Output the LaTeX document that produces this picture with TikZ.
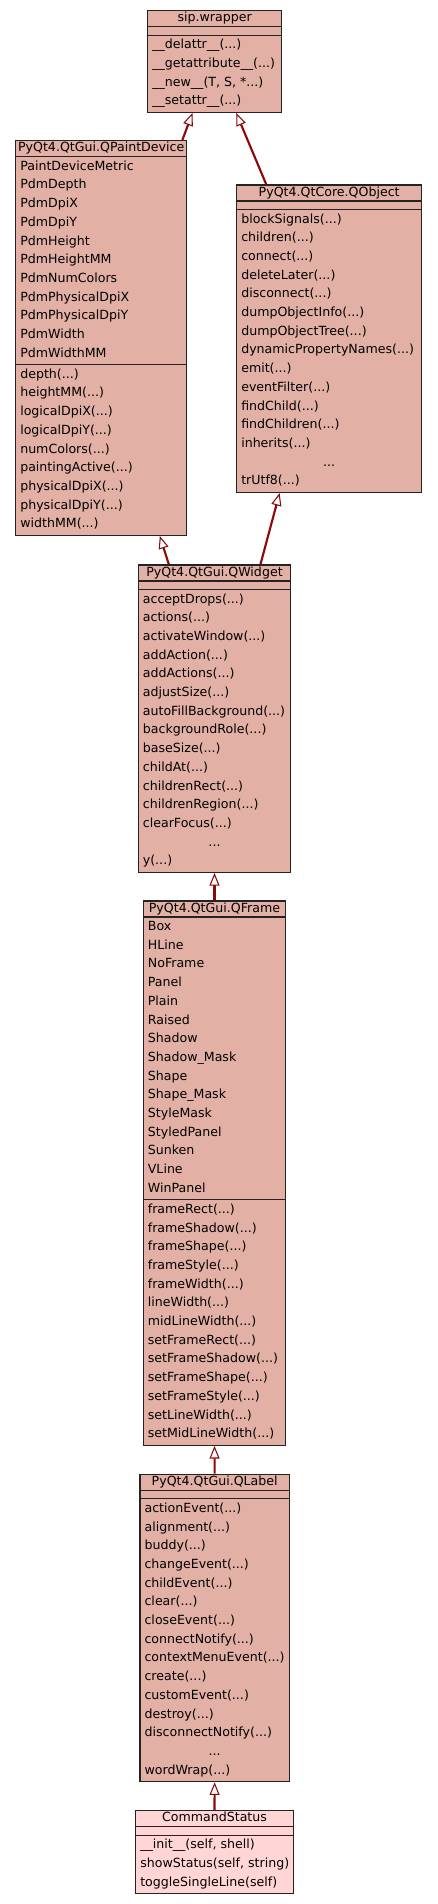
\documentclass[tikz,border=0pt]{standalone}
\usepackage{fontspec}
\setmainfont{DejaVu Sans}
\usepackage{tikz}
\usetikzlibrary{arrows.meta, positioning, calc, fit}

\definecolor{boxfill}{RGB}{226,176,164}
\definecolor{leaffill}{RGB}{255,213,213}
\definecolor{edgered}{RGB}{139,10,10}
\definecolor{boxline}{RGB}{35,35,35}

\newcommand{\threedots}{...}
\newcommand{\callargs}{(\threedots)}

\tikzset{
  classbox/.style={draw=boxline, line width=1pt, fill=boxfill, inner sep=0pt},
  sepline/.style={draw=boxline, line width=1pt},
  member/.style={anchor=base west, inner sep=0pt},
  cname/.style={anchor=base, inner sep=0pt},
  inherit/.style={draw=edgered, line width=1.6pt,
    -{Triangle[fill=white, length=9.5pt, width=7.5pt, line width=0.8pt]}},
}

\begin{document}
\begin{tikzpicture}[x=0.75pt,y=-0.75pt,font=\fontsize{9.45}{11}\selectfont]

\fill[white] (0,0) rectangle (437,1904);
\useasboundingbox (0,0) rectangle (437,1904);

% --- SIP.WRAPPER ---
\node[classbox, fit={(147.7,10.7) (281.7,112.3)}] (sip) {};
\node[cname] (sip-t) at (214.7,21.7) {sip.wrapper};
\draw[sepline] (147.7,26.7) -- (281.7,26.7);
\draw[sepline] (147.7,35.2) -- (281.7,35.2);
\foreach \txt [count=\k from 0] in {\_\_delattr\_\_\callargs, \_\_getattribute\_\_\callargs,
    {\_\_new\_\_(T, S, *\threedots)}, \_\_setattr\_\_\callargs} {
  \node[member] (sip-m\k) at (152,48.7+\k*18.7) {\txt};
}

% --- QPAINTDEVICE ---
\node[classbox, fit={(15.7,140.7) (186.7,535.3)}] (qpd) {};
\node[cname] (qpd-t) at (101.2,151.7) {PyQt4.QtGui.QPaintDevice};
\draw[sepline] (15.7,156.7) -- (186.7,156.7);
\draw[sepline] (15.7,364.7) -- (186.7,364.7);
\foreach \txt [count=\k from 0] in {PaintDeviceMetric, PdmDepth, PdmDpiX, PdmDpiY, PdmHeight,
    PdmHeightMM, PdmNumColors, PdmPhysicalDpiX, PdmPhysicalDpiY, PdmWidth, PdmWidthMM} {
  \node[member] (qpd-a\k) at (20,170.2+\k*18.7) {\txt};
}
\foreach \txt [count=\k from 0] in {depth\callargs, heightMM\callargs, logicalDpiX\callargs,
    logicalDpiY\callargs, numColors\callargs, paintingActive\callargs, physicalDpiX\callargs,
    physicalDpiY\callargs, widthMM\callargs} {
  \node[member] (qpd-m\k) at (20,378.2+\k*18.7) {\txt};
}

% --- QOBJECT ---
\node[classbox, fit={(236.7,185) (421.7,492.3)}] (qobj) {};
\node[cname] (qobj-t) at (329.2,196) {PyQt4.QtCore.QObject};
\draw[sepline] (236.7,201) -- (421.7,201);
\draw[sepline] (236.7,209.5) -- (421.7,209.5);
\foreach \txt [count=\k from 0] in {blockSignals\callargs, children\callargs, connect\callargs,
    deleteLater\callargs, disconnect\callargs, dumpObjectInfo\callargs, dumpObjectTree\callargs,
    dynamicPropertyNames\callargs, emit\callargs, eventFilter\callargs, findChild\callargs,
    findChildren\callargs, inherits\callargs} {
  \node[member] (qobj-m\k) at (241,223+\k*18.7) {\txt};
}
\node[cname] (qobj-etc) at (329.2,223+13*18.7) {\threedots};
\node[member] (qobj-last) at (241,223+14*18.7) {trUtf8\callargs};

% --- QWIDGET ---
\node[classbox, fit={(138.3,565) (290.7,872.3)}] (qwid) {};
\node[cname] (qwid-t) at (214.5,576) {PyQt4.QtGui.QWidget};
\draw[sepline] (138.3,581) -- (290.7,581);
\draw[sepline] (138.3,589.5) -- (290.7,589.5);
\foreach \txt [count=\k from 0] in {acceptDrops\callargs, actions\callargs, activateWindow\callargs,
    addAction\callargs, addActions\callargs, adjustSize\callargs, autoFillBackground\callargs,
    backgroundRole\callargs, baseSize\callargs, childAt\callargs, childrenRect\callargs,
    childrenRegion\callargs, clearFocus\callargs} {
  \node[member] (qwid-m\k) at (142.6,603+\k*18.7) {\txt};
}
\node[cname] (qwid-etc) at (214.5,603+13*18.7) {\threedots};
\node[member] (qwid-last) at (142.6,603+14*18.7) {y\callargs};

% --- QFRAME ---
\node[classbox, fit={(143.3,901) (285.7,1445.2)}] (qfrm) {};
\node[cname] (qfrm-t) at (214.5,912) {PyQt4.QtGui.QFrame};
\draw[sepline] (143.3,917) -- (285.7,917);
\draw[sepline] (143.3,1199.8) -- (285.7,1199.8);
\foreach \txt [count=\k from 0] in {Box, HLine, NoFrame, Panel, Plain, Raised, Shadow,
    Shadow\_Mask, Shape, Shape\_Mask, StyleMask, StyledPanel, Sunken, VLine, WinPanel} {
  \node[member] (qfrm-a\k) at (147.6,930.5+\k*18.7) {\txt};
}
\foreach \txt [count=\k from 0] in {frameRect\callargs, frameShadow\callargs, frameShape\callargs,
    frameStyle\callargs, frameWidth\callargs, lineWidth\callargs, midLineWidth\callargs,
    setFrameRect\callargs, setFrameShadow\callargs, setFrameShape\callargs,
    setFrameStyle\callargs, setLineWidth\callargs, setMidLineWidth\callargs} {
  \node[member] (qfrm-m\k) at (147.6,1213.3+\k*18.7) {\txt};
}

% --- QLABEL ---
\node[classbox, fit={(140,1474.3) (289.3,1781.6)}] (qlbl) {};
\node[cname] (qlbl-t) at (214.7,1485.3) {PyQt4.QtGui.QLabel};
\draw[sepline] (140,1490.3) -- (289.3,1490.3);
\draw[sepline] (140,1498.8) -- (289.3,1498.8);
\foreach \txt [count=\k from 0] in {actionEvent\callargs, alignment\callargs, buddy\callargs,
    changeEvent\callargs, childEvent\callargs, clear\callargs, closeEvent\callargs,
    connectNotify\callargs, contextMenuEvent\callargs, create\callargs, customEvent\callargs,
    destroy\callargs, disconnectNotify\callargs} {
  \node[member] (qlbl-m\k) at (144.3,1512.3+\k*18.7) {\txt};
}
\node[cname] (qlbl-etc) at (214.7,1512.3+13*18.7) {\threedots};
\node[member] (qlbl-last) at (144.3,1512.3+14*18.7) {wordWrap\callargs};

% --- COMMANDSTATUS ---
\node[classbox, fill=leaffill, fit={(135.7,1810.7) (293.3,1893.6)}] (cmd) {};
\node[cname] (cmd-t) at (214.5,1821.7) {CommandStatus};
\draw[sepline] (135.7,1826.7) -- (293.3,1826.7);
\draw[sepline] (135.7,1835.2) -- (293.3,1835.2);
\foreach \txt [count=\k from 0] in {{\_\_init\_\_(self, shell)}, {showStatus(self, string)},
    toggleSingleLine(self)} {
  \node[member] (cmd-m\k) at (140,1848.7+\k*18.7) {\txt};
}

% --- INHERITANCE ---
\draw[inherit] ($(qpd.north west)!0.971!(qpd.north east)$) -- ($(sip.south west)!0.336!(sip.south east)$);
\draw[inherit] ($(qobj.north west)!0.162!(qobj.north east)$) -- ($(sip.south west)!0.659!(sip.south east)$);
\draw[inherit] ($(qwid.north west)!0.203!(qwid.north east)$) -- ($(qpd.south west)!0.84!(qpd.south east)$);
\draw[inherit] ($(qwid.north west)!0.799!(qwid.north east)$) -- ($(qobj.south west)!0.234!(qobj.south east)$);
\draw[inherit] (qfrm.north) -- (qwid.south);
\draw[inherit] (qlbl.north) -- (qfrm.south);
\draw[inherit] (cmd.north) -- (qlbl.south);
\end{tikzpicture}
\end{document}
